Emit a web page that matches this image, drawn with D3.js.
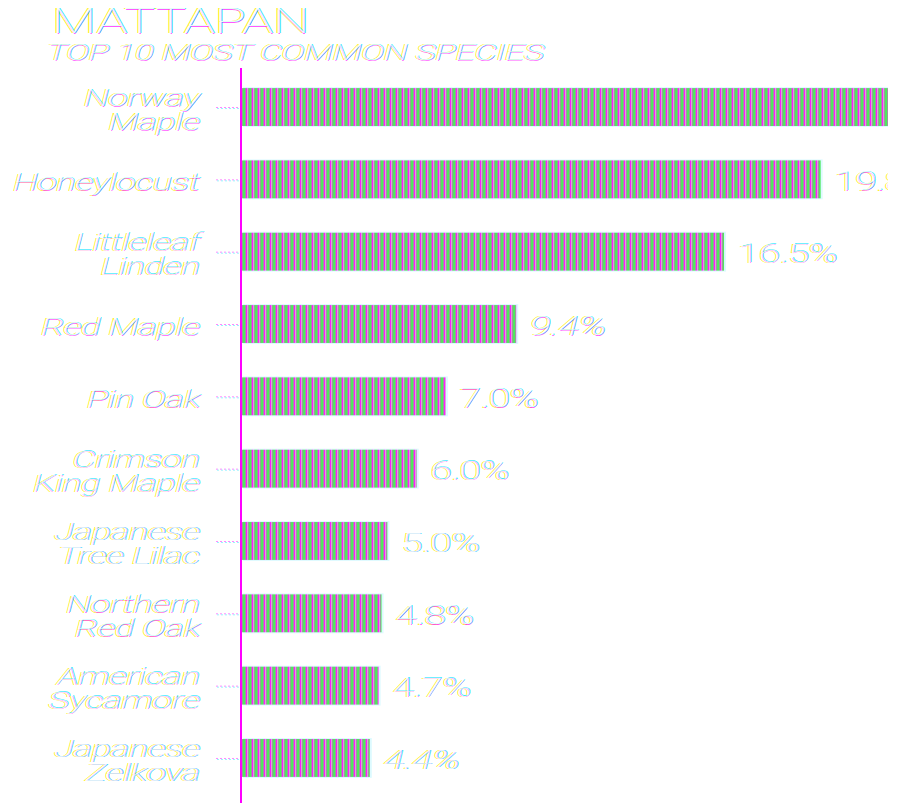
<!DOCTYPE html>
<html>
<head>
<meta charset="utf-8">
<script src="https://cdn.jsdelivr.net/npm/d3@7"></script>
<style>
  body { margin: 0; background: #fff; }
  svg { display: block; }
  text { font-family: "Roboto", "Lato", sans-serif; font-weight: 100; }
</style>
</head>
<body>
<svg id="chart"></svg>
<script>
const species = ["Norway Maple", "Honeylocust", "Littleleaf Linden", "Red Maple", "Pin Oak",
  "Crimson King Maple", "Japanese Tree Lilac", "Northern Red Oak", "American Sycamore", "Japanese Zelkova"];
const labelLines = [["Norway", "Maple"], ["Honeylocust"], ["Littleleaf", "Linden"], ["Red Maple"], ["Pin Oak"],
  ["Crimson", "King Maple"], ["Japanese", "Tree Lilac"], ["Northern", "Red Oak"], ["American", "Sycamore"], ["Japanese", "Zelkova"]];
const shares = [22.1, 19.8, 16.5, 9.4, 7.0, 6.0, 5.0, 4.8, 4.7, 4.4];
const italicValue = [false, false, false, true, false, false, false, false, false, true];

const title = "MATTAPAN";
const subtitle = "TOP 10 MOST COMMON SPECIES";

const width = 888, height = 803;
const svg = d3.select("#chart").attr("width", width).attr("height", height);

const x = d3.scaleLinear()
    .domain([0, d3.max(shares)])
    .range([241, width]);

const y = d3.scaleBand()
    .domain(species)
    .range([70, 795])
    .paddingInner(0.476)
    .paddingOuter(0.25);

// striped fill
const defs = svg.append("defs");
const pat = defs.append("pattern")
    .attr("id", "stripes")
    .attr("patternUnits", "userSpaceOnUse")
    .attr("width", 6).attr("height", 10);
pat.append("rect").attr("x", 0).attr("width", 6).attr("height", 10).attr("fill", "#9b9b9b");
pat.append("rect").attr("x", 0).attr("width", 1).attr("height", 10).attr("fill", "#ff1aff");
pat.append("rect").attr("x", 1).attr("width", 1).attr("height", 10).attr("fill", "#d9a3d9");
pat.append("rect").attr("x", 3).attr("width", 2).attr("height", 10).attr("fill", "#4fe85e");

// text with colour fringes
function glitchText(parent, tx, ty, str, o) {
    const g = parent.append("g").attr("transform", `translate(${tx},${ty})`);
    const inner = g.append("g").attr("transform", `scale(${o.sx || 1.3},1)`);
    const layers = [
        {c: "#ffee00", dx: -1.0, dy: 0.3, op: 0.8},
        {c: "#ff22ff", dx: 0.5, dy: 0.5, op: 0.75},
        {c: "#00e5ff", dx: 0.9, dy: -0.3, op: 0.75},
        {c: "#ffffff", dx: 0, dy: 0, op: 0.9}
    ];
    layers.forEach(l => {
        inner.append("text")
            .attr("x", l.dx).attr("y", l.dy)
            .attr("text-anchor", o.anchor || "start")
            .attr("font-size", o.size)
            .attr("font-style", o.italic ? "italic" : "normal")
            .attr("fill", l.c)
            .attr("fill-opacity", l.op)
            .text(str);
    });
    return g;
}

// title
glitchText(svg, 52, 33, title, {size: 36, sx: 1.43});
glitchText(svg, 47, 60, subtitle, {size: 22, sx: 1.57, italic: true});

// axis line
svg.append("line")
    .attr("x1", x(0)).attr("x2", x(0))
    .attr("y1", 68).attr("y2", height)
    .attr("stroke", "#ff00ff")
    .attr("stroke-width", 2);

// bars
const bars = svg.append("g");
bars.selectAll("rect.shadow")
    .data(species)
    .join("rect")
    .attr("class", "shadow")
    .attr("x", x(0) + 2)
    .attr("y", d => y(d) - 1)
    .attr("width", (d, i) => x(shares[i]) - x(0))
    .attr("height", y.bandwidth() + 2)
    .attr("fill", "#c6f6ff")
    .attr("opacity", 0.6);

bars.selectAll("rect.bar")
    .data(species)
    .join("rect")
    .attr("class", "bar")
    .attr("x", x(0) + 1)
    .attr("y", d => y(d))
    .attr("width", (d, i) => x(shares[i]) - x(0) - 1)
    .attr("height", y.bandwidth())
    .attr("fill", "url(#stripes)");

// ticks
const ticks = svg.append("g");
species.forEach(d => {
    const cy = y(d) + y.bandwidth() / 2;
    ticks.append("line")
        .attr("x1", 216).attr("x2", x(0) - 2)
        .attr("y1", cy + 0.5).attr("y2", cy + 0.5)
        .attr("stroke", "#ff88ff")
        .attr("stroke-width", 1)
        .attr("stroke-dasharray", "2,2");
    ticks.append("line")
        .attr("x1", 217).attr("x2", x(0) - 2)
        .attr("y1", cy + 1.5).attr("y2", cy + 1.5)
        .attr("stroke", "#99f2ff")
        .attr("stroke-width", 1)
        .attr("stroke-dasharray", "2,2");
});

// category labels
const labels = svg.append("g");
species.forEach((d, i) => {
    const cy = y(d) + y.bandwidth() / 2;
    const lines = labelLines[i];
    const o = {size: 23, sx: 1.55, anchor: "end", italic: true};
    if (lines.length === 1) {
        glitchText(labels, 200, cy + 11, lines[0], o);
    } else {
        glitchText(labels, 200, cy - 1, lines[0], o);
        glitchText(labels, 200, cy + 23, lines[1], o);
    }
});

// value labels
const vals = svg.append("g");
species.forEach((d, i) => {
    const cy = y(d) + y.bandwidth() / 2;
    glitchText(vals, x(shares[i]) + 14, cy + 11, d3.format(".1f")(shares[i]) + "%",
        {size: 26, sx: 1.47, italic: italicValue[i]});
});
</script>
</body>
</html>
